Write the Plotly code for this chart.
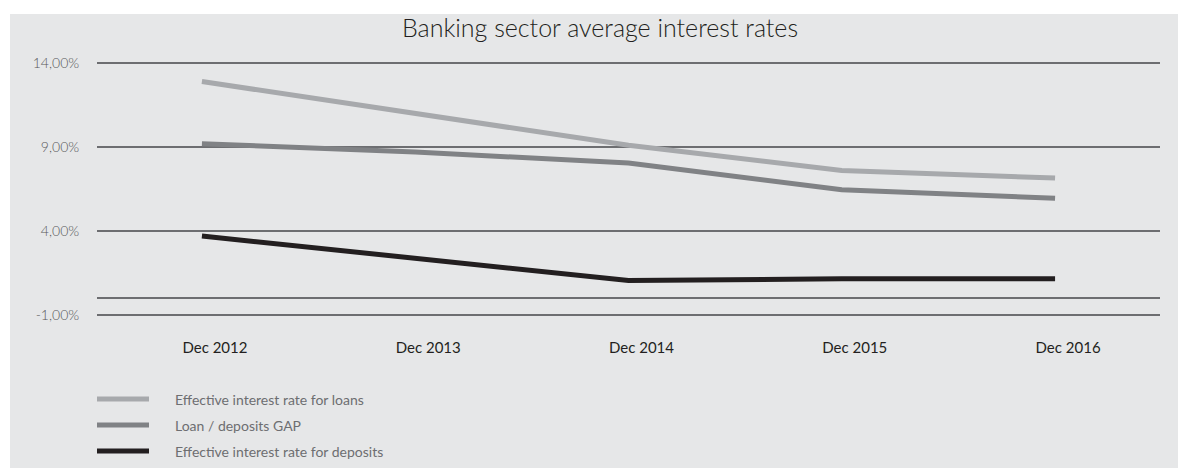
import plotly.graph_objects as go

categories = ["Dec 2012", "Dec 2013", "Dec 2014", "Dec 2015", "Dec 2016"]
loans = [12.9, 11.0, 9.1, 7.6, 7.15]
gap = [9.2, 8.7, 8.05, 6.45, 5.95]
deposits = [3.7, 2.35, 1.05, 1.15, 1.15]
series_names = ["Effective interest rate for loans", "Loan / deposits GAP",
                "Effective interest rate for deposits"]
series_colors = ["#A7A9AC", "#808285", "#231F20"]
y_ticks = [-1, 4, 9, 14]
y_tick_labels = ["-1,00%", "4,00%", "9,00%", "14,00%"]

W, H = 1178, 468
FONT = "Lato"
ML, MR, MT, MB = 97, 18, 58, 148
PW, PH = W - ML - MR, H - MT - MB

fig = go.Figure()
for name, vals, col in zip(series_names, [loans, gap, deposits], series_colors):
    fig.add_trace(go.Scatter(x=list(range(len(categories))), y=vals, mode="lines", name=name,
                             line=dict(color=col, width=5), showlegend=False,
                             hovertemplate="%{y:.2f}%<extra>" + name + "</extra>"))


def px_x(x):
    return (x - ML) / PW


def px_y(y):
    return (H - MB - y) / PH


# white strips around gray panel (paper is gray)
shapes = [
    dict(type="rect", xref="paper", yref="paper", layer="below",
         x0=px_x(-5), x1=px_x(W + 5), y0=px_y(14), y1=px_y(-5),
         fillcolor="white", line=dict(width=0)),
    dict(type="rect", xref="paper", yref="paper", layer="below",
         x0=px_x(-5), x1=px_x(10), y0=px_y(H + 5), y1=px_y(-5),
         fillcolor="white", line=dict(width=0)),
]
annotations = []
leg_y = [399, 425, 451]
for name, col, yy in zip(series_names, series_colors, leg_y):
    shapes.append(dict(type="line", xref="paper", yref="paper",
                       x0=px_x(97), x1=px_x(149), y0=px_y(yy), y1=px_y(yy),
                       line=dict(color=col, width=5)))
    annotations.append(dict(text=name, xref="paper", yref="paper", x=px_x(173),
                            y=px_y(yy), xanchor="left", yanchor="middle", showarrow=False,
                            font=dict(family=FONT, size=14, color="#6D6E71", weight=400)))

fig.update_layout(
    width=W, height=H,
    margin=dict(l=ML, r=MR, t=MT, b=MB),
    paper_bgcolor="#E6E7E8", plot_bgcolor="#E6E7E8",
    shapes=shapes, annotations=annotations,
    title=dict(text="Banking sector average interest rates", x=600 / W, xanchor="center",
               xref="container", y=1 - 28 / H, yanchor="middle", yref="container",
               font=dict(family=FONT, size=25, color="#231F20", weight=300)),
    xaxis=dict(tickmode="array", tickvals=list(range(len(categories))), ticktext=categories,
               range=[-0.492, 4.492], showgrid=False, zeroline=False, showline=False,
               ticks="outside", ticklen=14, tickcolor="rgba(0,0,0,0)", ticklabelshift=13,
               tickfont=dict(family=FONT, size=15, color="#231F20", weight=400)),
    yaxis=dict(range=[-1.3, 14.3], tickmode="array", tickvals=y_ticks, ticktext=y_tick_labels,
               showgrid=True, gridcolor="#6D6E71",
               gridwidth=1.5, zeroline=True, zerolinecolor="#6D6E71", zerolinewidth=1.5,
               showline=False, ticks="outside", ticklen=14, tickcolor="rgba(0,0,0,0)",
               tickfont=dict(family=FONT, size=14, color="#58595B", weight=300)),
)

fig.write_html("out.html")
